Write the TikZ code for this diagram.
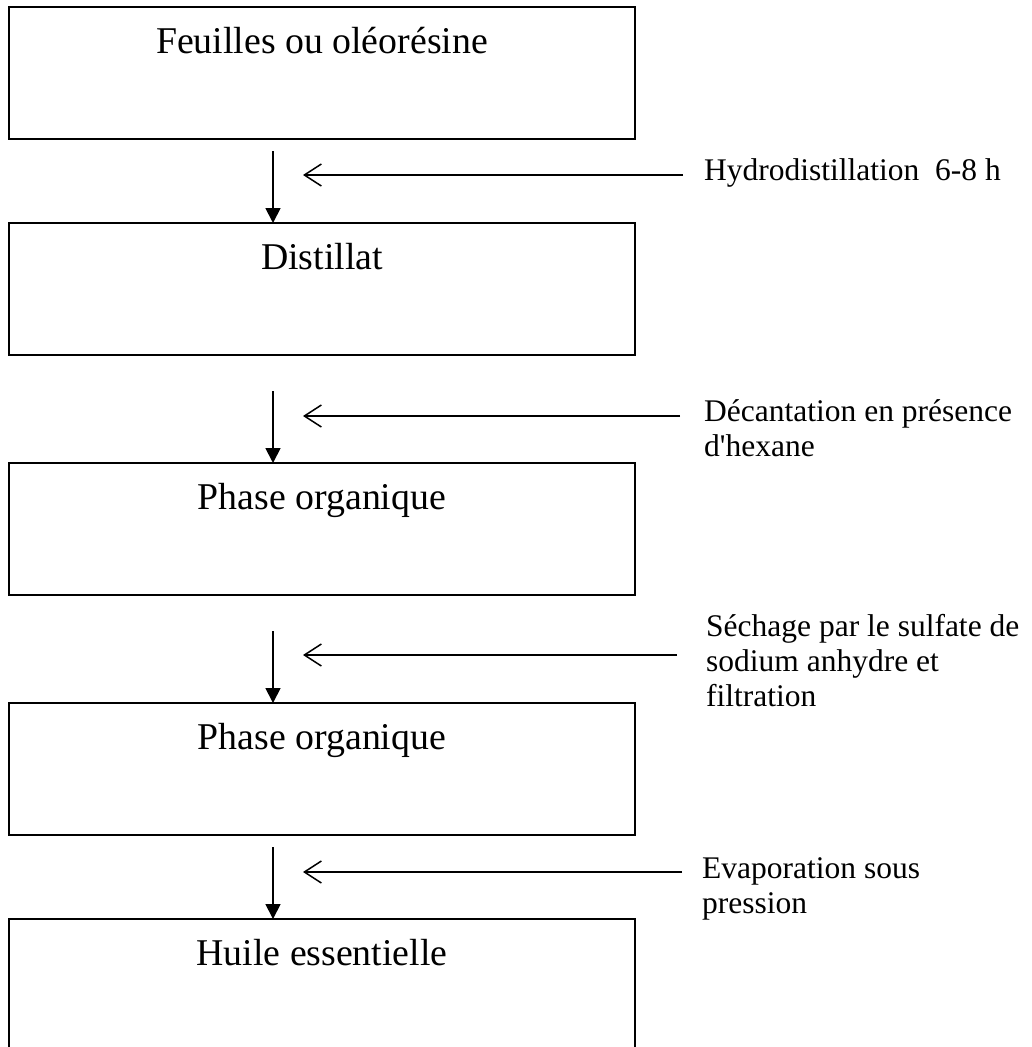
\documentclass[tikz,border=0pt]{standalone}
\usepackage{fontspec}
\setmainfont{Liberation Serif}[Ligatures=TeXOff]
\usetikzlibrary{arrows.meta}
\begin{document}
\begin{tikzpicture}[x=1pt,y=-1pt,
  box/.style={draw, line width=1.6pt, minimum width=626pt, minimum height=132pt, inner sep=0pt, outer sep=0pt},
  boxtext/.style={font=\fontsize{37.8}{43}\selectfont, anchor=base, inner sep=0pt},
  sidetext/.style={font=\fontsize{31.5}{35}\selectfont, anchor=base west, inner sep=0pt},
  darr/.style={line width=1.8pt, -{Triangle[length=15pt,width=15pt]}},
  larr/.style={line width=1.5pt, -{Straight Barb[length=17pt,width=22pt]}}
]
\useasboundingbox (0,0) rectangle (1032,1047);
\clip (0,0) rectangle (1032,1047);

% boxes
\node[box] (b1) at (322,73) {};
\node[box] (b2) at (322,289) {};
\node[box] (b3) at (322,529) {};
\node[box] (b4) at (322,769) {};
\node[box] (b5) at (322,985) {};

\node[boxtext] (t1) at ([yshift=-46pt]b1.north) {Feuilles ou oléorésine};
\node[boxtext] (t2) at ([yshift=-46pt]b2.north) {Distillat};
\node[boxtext] (t3) at ([yshift=-46pt]b3.north) {Phase organique};
\node[boxtext] (t4) at ([yshift=-46pt]b4.north) {Phase organique};
\node[boxtext] (t5) at ([yshift=-46pt]b5.north) {Huile essentielle};

% down arrows
\draw[darr] ([xshift=-49pt,yshift=-12pt]b1.south) -- ([xshift=-49pt]b2.north);
\draw[darr] ([xshift=-49pt,yshift=-36pt]b2.south) -- ([xshift=-49pt]b3.north);
\draw[darr] ([xshift=-49pt,yshift=-36pt]b3.south) -- ([xshift=-49pt]b4.north);
\draw[darr] ([xshift=-49pt,yshift=-12pt]b4.south) -- ([xshift=-49pt]b5.north);

% side inputs
\coordinate (a1) at (683,175); \coordinate (h1) at (303,175);
\coordinate (a2) at (680,416); \coordinate (h2) at (303,416);
\coordinate (a3) at (677,655); \coordinate (h3) at (303,655);
\coordinate (a4) at (682,872); \coordinate (h4) at (303,872);
\draw[larr] (a1) -- (h1);
\draw[larr] (a2) -- (h2);
\draw[larr] (a3) -- (h3);
\draw[larr] (a4) -- (h4);

\node[sidetext] (s1) at (704,180) {Hydrodistillation\ \ 6-8 h};
\node[sidetext] (s2) at (704,421) {\begin{tabular}[t]{@{}l@{}}Décantation en présence\\d'hexane\end{tabular}};
\node[sidetext] (s3) at (706,636) {\begin{tabular}[t]{@{}l@{}}Séchage par le sulfate de\\sodium anhydre et\\filtration\end{tabular}};
\node[sidetext] (s4) at (702,878) {\begin{tabular}[t]{@{}l@{}}Evaporation sous\\pression\end{tabular}};
\end{tikzpicture}
\end{document}
